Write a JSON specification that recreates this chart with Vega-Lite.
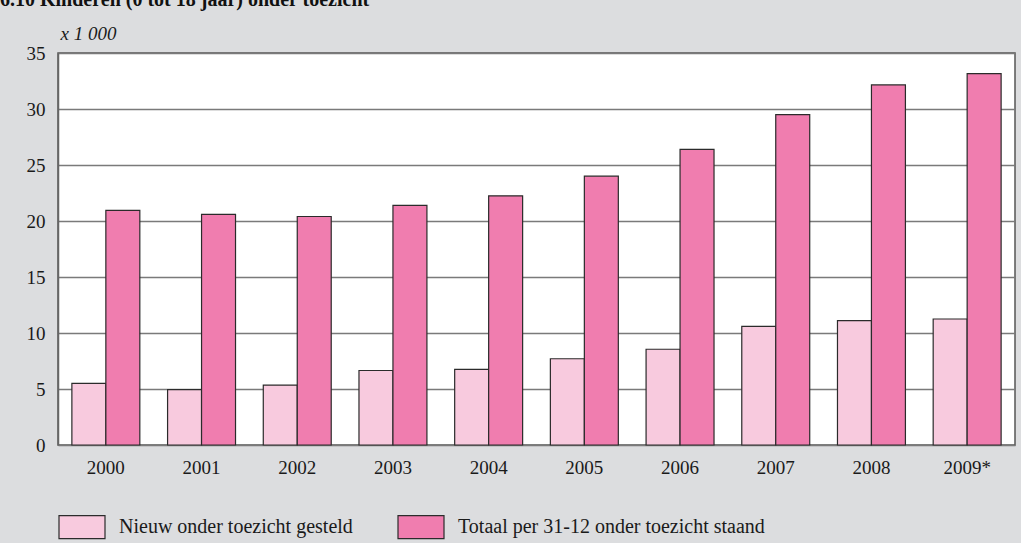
{
  "$schema": "https://vega.github.io/schema/vega-lite/v6.json",
  "width": 957,
  "height": 392,
  "autosize": {"type": "none"},
  "padding": {"left": 58, "top": 53, "right": 6, "bottom": 98},
  "background": "#dcdddf",
  "title": {
    "text": "6.10  Kinderen (0 tot 18 jaar) onder toezicht",
    "anchor": "start",
    "orient": "top",
    "frame": "group",
    "font": "Liberation Serif",
    "fontSize": 20,
    "fontWeight": "bold",
    "color": "#111111",
    "baseline": "alphabetic",
    "dx": -58,
    "offset": 0,
    "dy": 2
  },
  "data": {
    "values": [
      {"year": "2000", "series": "Nieuw onder toezicht gesteld", "value": 5.5},
      {"year": "2000", "series": "Totaal per 31-12 onder toezicht staand", "value": 20.95},
      {"year": "2001", "series": "Nieuw onder toezicht gesteld", "value": 4.95},
      {"year": "2001", "series": "Totaal per 31-12 onder toezicht staand", "value": 20.6},
      {"year": "2002", "series": "Nieuw onder toezicht gesteld", "value": 5.35},
      {"year": "2002", "series": "Totaal per 31-12 onder toezicht staand", "value": 20.4},
      {"year": "2003", "series": "Nieuw onder toezicht gesteld", "value": 6.65},
      {"year": "2003", "series": "Totaal per 31-12 onder toezicht staand", "value": 21.4},
      {"year": "2004", "series": "Nieuw onder toezicht gesteld", "value": 6.75},
      {"year": "2004", "series": "Totaal per 31-12 onder toezicht staand", "value": 22.25},
      {"year": "2005", "series": "Nieuw onder toezicht gesteld", "value": 7.7},
      {"year": "2005", "series": "Totaal per 31-12 onder toezicht staand", "value": 24.0},
      {"year": "2006", "series": "Nieuw onder toezicht gesteld", "value": 8.55},
      {"year": "2006", "series": "Totaal per 31-12 onder toezicht staand", "value": 26.4},
      {"year": "2007", "series": "Nieuw onder toezicht gesteld", "value": 10.6},
      {"year": "2007", "series": "Totaal per 31-12 onder toezicht staand", "value": 29.5},
      {"year": "2008", "series": "Nieuw onder toezicht gesteld", "value": 11.1},
      {"year": "2008", "series": "Totaal per 31-12 onder toezicht staand", "value": 32.15},
      {"year": "2009*", "series": "Nieuw onder toezicht gesteld", "value": 11.25},
      {"year": "2009*", "series": "Totaal per 31-12 onder toezicht staand", "value": 33.15}
    ]
  },
  "mark": {"type": "bar", "stroke": "#2b2b2b", "strokeWidth": 1.2},
  "encoding": {
    "x": {
      "field": "year",
      "type": "nominal",
      "sort": null,
      "scale": {"paddingInner": 0.29, "paddingOuter": 0.145},
      "axis": {
        "title": null,
        "labelAngle": 0,
        "ticks": false,
        "domain": false,
        "labelPadding": 13,
        "labelFont": "Liberation Serif",
        "labelFontSize": 19,
        "labelColor": "#1a1a1a"
      }
    },
    "xOffset": {
      "field": "series",
      "type": "nominal",
      "sort": null,
      "scale": {"paddingInner": 0, "paddingOuter": 0}
    },
    "y": {
      "field": "value",
      "type": "quantitative",
      "scale": {"domain": [0, 35], "nice": false},
      "axis": {
        "values": [0, 5, 10, 15, 20, 25, 30, 35],
        "title": "x 1 000",
        "titleAngle": 0,
        "titleX": 2,
        "titleY": -20,
        "titleAlign": "left",
        "titleBaseline": "middle",
        "titleFont": "Liberation Serif",
        "titleFontStyle": "italic",
        "titleFontWeight": "normal",
        "titleFontSize": 19,
        "titleColor": "#1a1a1a",
        "ticks": false,
        "domain": true,
        "domainColor": "#666666",
        "domainWidth": 1.5,
        "labelPadding": 13,
        "labelFont": "Liberation Serif",
        "labelFontSize": 19,
        "labelColor": "#1a1a1a",
        "grid": true,
        "gridColor": "#7a7a7a",
        "gridWidth": 1.5
      }
    },
    "color": {
      "field": "series",
      "type": "nominal",
      "sort": null,
      "scale": {
        "domain": ["Nieuw onder toezicht gesteld", "Totaal per 31-12 onder toezicht staand"],
        "range": ["#f8cade", "#f07daf"]
      },
      "legend": {
        "title": null,
        "orient": "none",
        "legendX": 0,
        "legendY": 450,
        "direction": "horizontal",
        "symbolType": "M-1,-0.5H1V0.5H-1Z",
        "symbolSize": 2116,
        "symbolStrokeColor": "#2b2b2b",
        "symbolStrokeWidth": 1.2,
        "symbolOpacity": 1,
        "labelFont": "Liberation Serif",
        "labelFontSize": 20,
        "labelColor": "#1a1a1a",
        "labelOffset": 13,
        "columnPadding": 42,
        "labelLimit": 400
      }
    }
  },
  "config": {
    "view": {"fill": "#ffffff", "stroke": "#555555", "strokeWidth": 1.5}
  }
}
